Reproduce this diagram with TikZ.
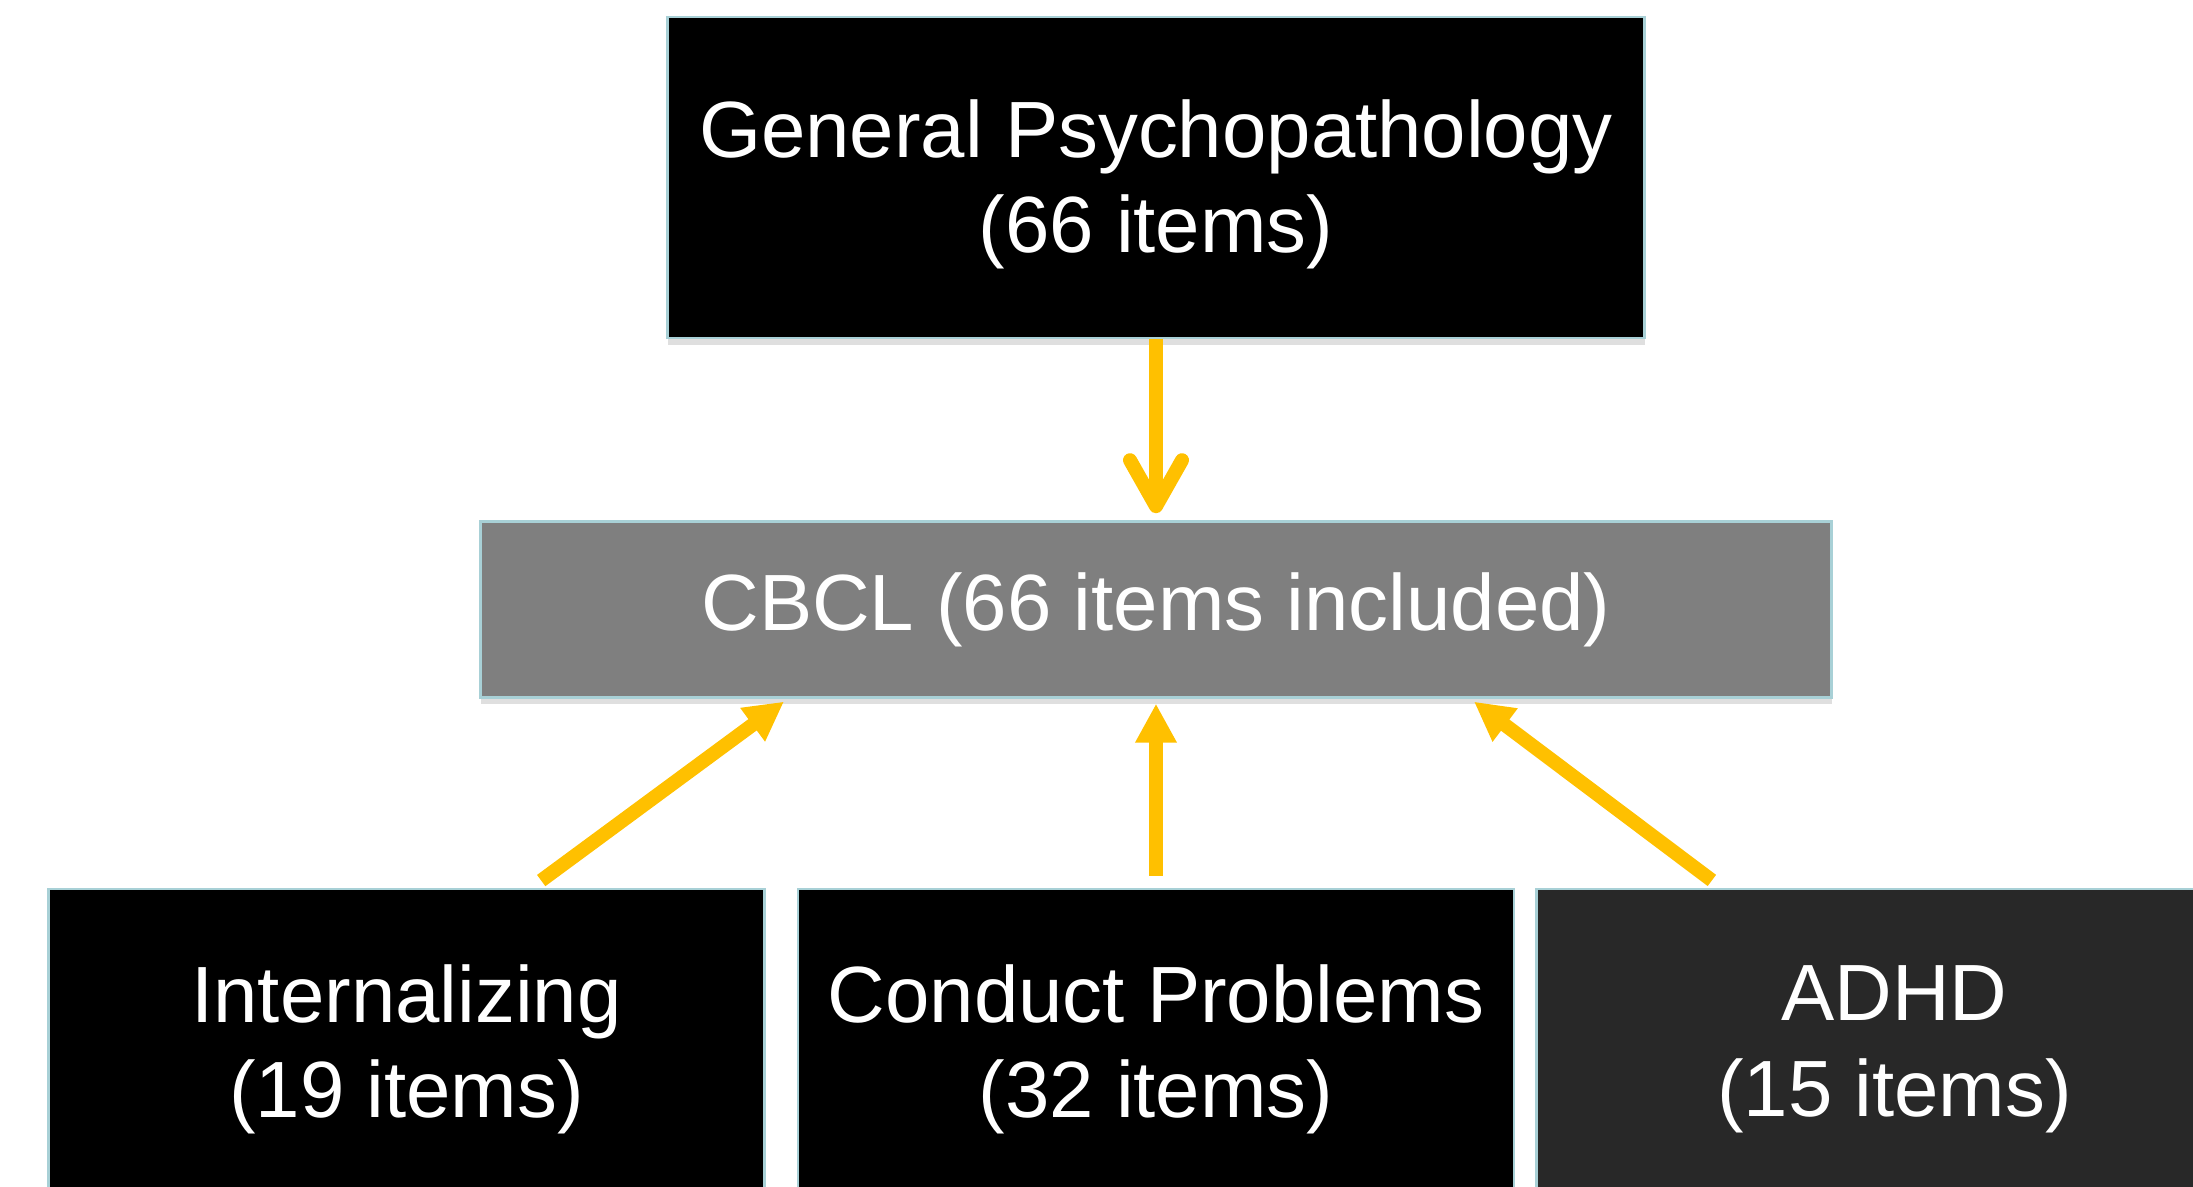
\documentclass[tikz,border=0pt]{standalone}
\usepackage{fontspec}
\setmainfont{Liberation Sans}
\usetikzlibrary{arrows.meta, positioning, shadows}
\definecolor{AmberYellow}{RGB}{255,192,0}
\definecolor{EdgeBlue}{RGB}{168,208,214}
\definecolor{MidGray}{RGB}{127,127,127}
\definecolor{DarkGray}{RGB}{40,40,40}

\begin{document}
\begin{tikzpicture}[
          factor/.style={rectangle, draw=EdgeBlue, line width=0.7pt, fill=black, text=white, minimum width=7.16cm, minimum height=3.21cm, inner sep=0pt, align=center, font=\fontsize{22.7}{27.2}\selectfont, drop shadow={opacity=0.25, shadow xshift=0pt, shadow yshift=-0.07cm}},
          uplink/.style={AmberYellow, line width=0.14cm, -{Triangle[length=0.39cm, width=0.39cm]}, shorten >=0.05cm, shorten <=0.12cm},
          downlink/.style={AmberYellow, line width=0.14cm, -{Straight Barb[length=0.46cm, width=0.52cm, round]}, shorten >=0.07cm}
        ]
          \useasboundingbox (0,0) rectangle (21.93,11.87);
          \clip (0,0) rectangle (21.93,11.87);
          \node (general) [factor, minimum width=9.77cm, text height=47.5pt] at (11.56,10.095) {General Psychopathology\\(66 items)};
          \node (cbcl) [factor, fill=MidGray, minimum width=13.51cm, minimum height=1.76cm, below=1.81cm of general] {CBCL (66 items included)};
          \node (conduct) [factor, below=1.89cm of cbcl] {Conduct Problems\\(32 items)};
          \node (intern) [factor, left=0.31cm of conduct] {Internalizing\\(19 items)};
          \node (adhd) [factor, fill=DarkGray, right=0.20cm of conduct] {ADHD\\(15 items)}; % runs off the right edge
          \draw [downlink] (general) -- (cbcl);
          \draw [uplink] ([xshift=1.25cm]intern.north) -- ([xshift=-3.68cm]cbcl.south);
          \draw [uplink] (conduct) -- (cbcl);
          \draw [uplink] ([xshift=-1.73cm]adhd.north) -- ([xshift=3.14cm]cbcl.south);
        \end{tikzpicture}
\end{document}
